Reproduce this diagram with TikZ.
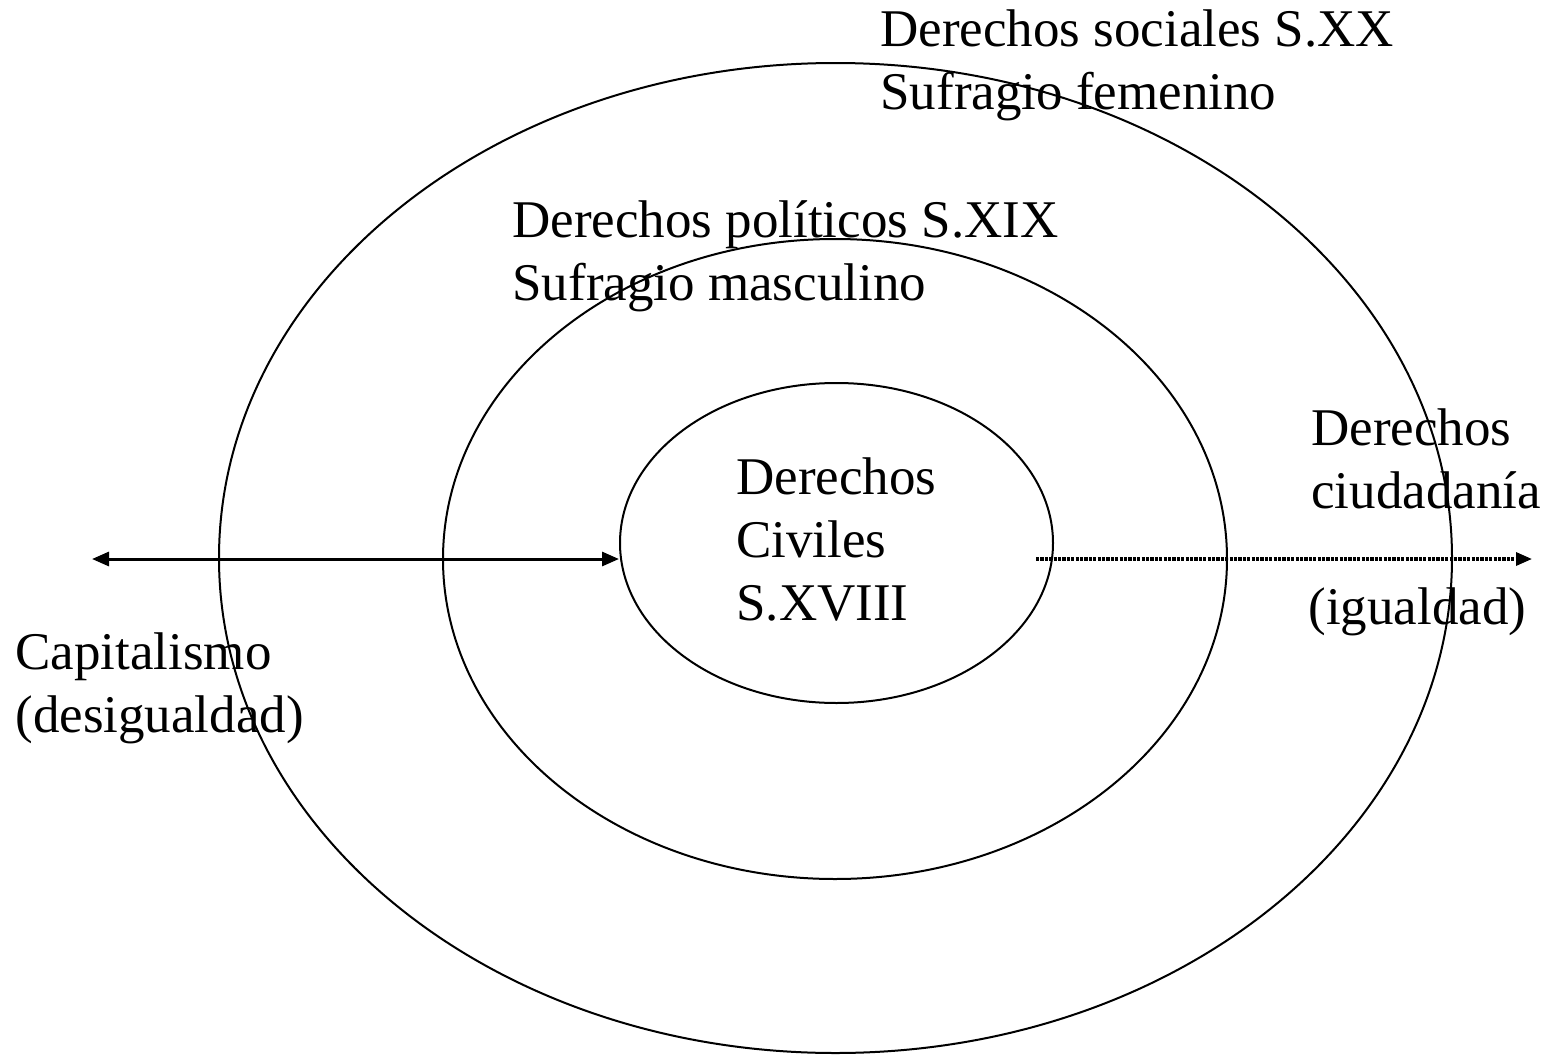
\documentclass[tikz,border=0pt]{standalone}
\usepackage{fontspec}
\setmainfont{Liberation Serif}
\usetikzlibrary{arrows.meta, shapes.geometric}
\tikzset{Rings/.style={
    x = 0.5pt, y = -0.5pt,
    ring/.style = {draw, ellipse, inner sep=0pt, line width=1pt},
    txt/.style = {inner sep=0pt, anchor=base west, align=left, font=\fontsize{26.5pt}{31.5pt}\selectfont},
    axis/.style = {line width=1.5pt, {Triangle[length=8.5pt, width=7pt]}-{Triangle[length=8.5pt, width=7pt]}},
    trend/.style = {line width=1.6pt, dash pattern=on 1.6pt off 0.6pt, -{Triangle[length=8pt, width=6.5pt]}}
}}

\begin{document}
\begin{tikzpicture}[Rings]
    \useasboundingbox (0,0) rectangle (1549,1055);

    \node [ring, minimum width=616.5pt, minimum height=495pt] (sociales) at (835.5,558) {};
    \node [ring, minimum width=392pt, minimum height=320pt] (politicos) at (835,559) {};
    \node [ring, minimum width=216.5pt, minimum height=160pt] (civiles) at (836.5,543) {};

    % base west sits on the last line
    \node [txt] (socialesTxt) at (880,109) {
        Derechos sociales S.XX\\Sufragio femenino
    };
    \node [txt] (politicosTxt) at (512,300) {
        Derechos políticos S.XIX\\Sufragio masculino
    };
    \node [txt] (civilesTxt) at (736,620) {
        Derechos\\Civiles\\S.XVIII
    };
    \node [txt] (ciudadTxt) at (1311,508) {
        Derechos\\ciudadanía
    };
    \node [txt] (igualTxt) at (1308,624) {
        (igualdad)
    };
    \node [txt] (capTxt) at (15,732) {
        Capitalismo\\(desigualdad)
    };

    \coordinate (capL) at (92,559);
    \coordinate (civilesR) at (1036,559);
    \coordinate (igualR) at (1532,559);

    \draw [axis] (capL) -- (capL -| civiles.west);
    \draw [trend] (civilesR) -- (igualR);
\end{tikzpicture}
\end{document}
